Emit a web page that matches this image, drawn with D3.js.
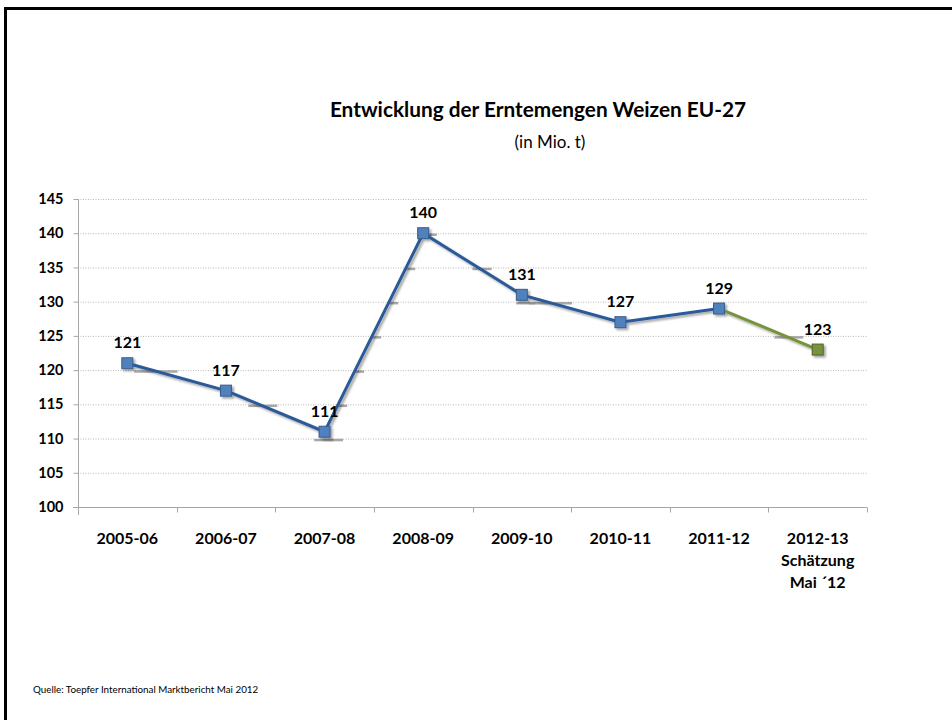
<!DOCTYPE html>
<html>
<head>
<meta charset="utf-8">
<script src="https://cdn.jsdelivr.net/npm/d3@7"></script>
<style>
  html, body { margin: 0; padding: 0; background: #fff; }
  svg { display: block; font-family: Lato, "Open Sans", "Liberation Sans", sans-serif; }
</style>
</head>
<body>
<svg id="chart" width="952" height="720"></svg>
<script>
// Harvest volumes of wheat in the EU-27 (million tonnes)
const seasons = ["2005-06", "2006-07", "2007-08", "2008-09", "2009-10", "2010-11", "2011-12", "2012-13"];
const seasonLabels = [["2005-06"], ["2006-07"], ["2007-08"], ["2008-09"], ["2009-10"], ["2010-11"], ["2011-12"], ["2012-13", "Schätzung", "Mai ´12"]];
const harvest = [121, 117, 111, 140, 131, 127, 129, 123];
const estimateFrom = 6; // index where the estimate segment starts
const yTicks = [100, 105, 110, 115, 120, 125, 130, 135, 140, 145];

const svg = d3.select("#chart");

// page frame
svg.append("rect")
  .attr("x", 5.5).attr("y", 8.5).attr("width", 960).attr("height", 730)
  .attr("fill", "none").attr("stroke", "#000").attr("stroke-width", 3);

const plotLeft = 78, plotRight = 867, plotTop = 199, plotBottom = 507;

const x = d3.scaleBand().domain(seasons).range([plotLeft, plotRight]);
const y = d3.scaleLinear().domain([100, 145]).range([plotBottom, plotTop]);
const cx = d => x(d) + x.bandwidth() / 2;

const defs = svg.append("defs");
const f = defs.append("filter").attr("id", "shadow").attr("x", "-20%").attr("y", "-20%").attr("width", "140%").attr("height", "140%");
f.append("feDropShadow").attr("dx", 2).attr("dy", 2).attr("stdDeviation", 1.2)
  .attr("flood-color", "#000").attr("flood-opacity", 0.35);

// titles
svg.append("text").attr("x", 538).attr("y", 117).attr("text-anchor", "middle")
  .attr("font-size", 20.8).attr("font-weight", "bold").attr("fill", "#000")
  .text("Entwicklung der Erntemengen Weizen EU-27");
svg.append("text").attr("x", 550).attr("y", 148).attr("text-anchor", "middle")
  .attr("font-size", 17).attr("fill", "#000")
  .text("(in Mio. t)");

// gridlines
svg.append("g").selectAll("line").data(yTicks.filter(v => v > 100)).join("line")
  .attr("x1", plotLeft).attr("x2", plotRight)
  .attr("y1", d => y(d) + 0.5).attr("y2", d => y(d) + 0.5)
  .attr("stroke", "#b8b8b8").attr("stroke-width", 1).attr("stroke-dasharray", "1,1.5");

// y axis
const yAxis = svg.append("g").attr("transform", `translate(${plotLeft + 0.5},0)`)
  .call(d3.axisLeft(y).tickValues(yTicks).tickSize(5).tickPadding(10));
yAxis.select(".domain").attr("stroke", "#a6a6a6").attr("d", `M0,${plotBottom + 8}V${plotTop}`);
yAxis.selectAll(".tick line").attr("stroke", "#a6a6a6");
yAxis.selectAll(".tick text").attr("font-size", 14.5).attr("font-weight", "bold")
  .attr("fill", "#000").attr("font-family", "Lato, 'Open Sans', sans-serif");

// x axis
const xAxis = svg.append("g").attr("transform", `translate(0,${plotBottom + 0.5})`)
  .call(d3.axisBottom(x).tickSize(0).tickFormat(""));
xAxis.select(".domain").attr("stroke", "#a6a6a6").attr("d", `M${plotLeft - 5},0H${plotRight}`);
xAxis.selectAll(".tick").remove();
xAxis.selectAll(".sep").data(d3.range(seasons.length + 1)).join("line")
  .attr("class", "sep")
  .attr("x1", i => Math.round(plotLeft + i * x.bandwidth()) + 0.5)
  .attr("x2", i => Math.round(plotLeft + i * x.bandwidth()) + 0.5)
  .attr("y1", 0).attr("y2", 5).attr("stroke", "#a6a6a6");

const xl = svg.append("g").selectAll("text").data(seasons).join("text")
  .attr("x", d => cx(d)).attr("y", 544).attr("text-anchor", "middle")
  .attr("font-size", 16).attr("font-weight", "bold").attr("fill", "#000");
xl.each(function(d, i) {
  const t = d3.select(this);
  seasonLabels[i].forEach((s, j) => {
    t.append("tspan").attr("x", cx(d)).attr("dy", j === 0 ? 0 : 22).text(s);
  });
});

// shadow streaks where the line crosses gridlines
const streaks = [];
for (let i = 0; i < harvest.length - 1; i++) {
  const a = harvest[i], b = harvest[i + 1];
  const x0 = cx(seasons[i]), x1 = cx(seasons[i + 1]);
  const slope = Math.abs((y(b) - y(a)) / (x1 - x0));
  yTicks.forEach(v => {
    if (v > Math.min(a, b) - 1.2 && v < Math.max(a, b) + 0.2 && v > 100) {
      let t = (v - a) / (b - a);
      t = Math.max(0, Math.min(1, t));
      const xc = x0 + t * (x1 - x0);
      const len = Math.max(10, Math.min(50, 12 / slope));
      streaks.push({ x: xc + 4, y: y(v) + 1.5, len });
    }
  });
}
svg.append("g").selectAll("line").data(streaks).join("line")
  .attr("x1", d => d.x - d.len / 2).attr("x2", d => d.x + d.len / 2)
  .attr("y1", d => d.y).attr("y2", d => d.y)
  .attr("stroke", "#8c8c8c").attr("stroke-width", 2.5).attr("opacity", 0.75);

// line
const pts = harvest.map((v, i) => [cx(seasons[i]), y(v)]);
const line = d3.line();
const g = svg.append("g").attr("filter", "url(#shadow)");
g.append("path").attr("d", line(pts.slice(0, estimateFrom + 1)))
  .attr("fill", "none").attr("stroke", "#2c5a98").attr("stroke-width", 3);
g.append("path").attr("d", line(pts.slice(estimateFrom)))
  .attr("fill", "none").attr("stroke", "#77933c").attr("stroke-width", 3);

// markers
const ms = 11;
g.selectAll("rect.m").data(harvest).join("rect").attr("class", "m")
  .attr("x", (d, i) => cx(seasons[i]) - ms / 2).attr("y", d => y(d) - ms / 2)
  .attr("width", ms).attr("height", ms)
  .attr("fill", (d, i) => i > estimateFrom ? "#77933c" : "#4f81bd")
  .attr("stroke", (d, i) => i > estimateFrom ? "#4f6228" : "#385d8a").attr("stroke-width", 1);

// value labels
svg.append("g").selectAll("text").data(harvest).join("text")
  .attr("x", (d, i) => cx(seasons[i])).attr("y", d => y(d) - 15)
  .attr("text-anchor", "middle").attr("font-size", 16).attr("font-weight", "bold").attr("fill", "#000")
  .text(d => d);

// source
svg.append("text").attr("x", 33).attr("y", 693).attr("font-size", 9.8).attr("fill", "#000")
  .text("Quelle: Toepfer International Marktbericht Mai 2012");
</script>
</body>
</html>
